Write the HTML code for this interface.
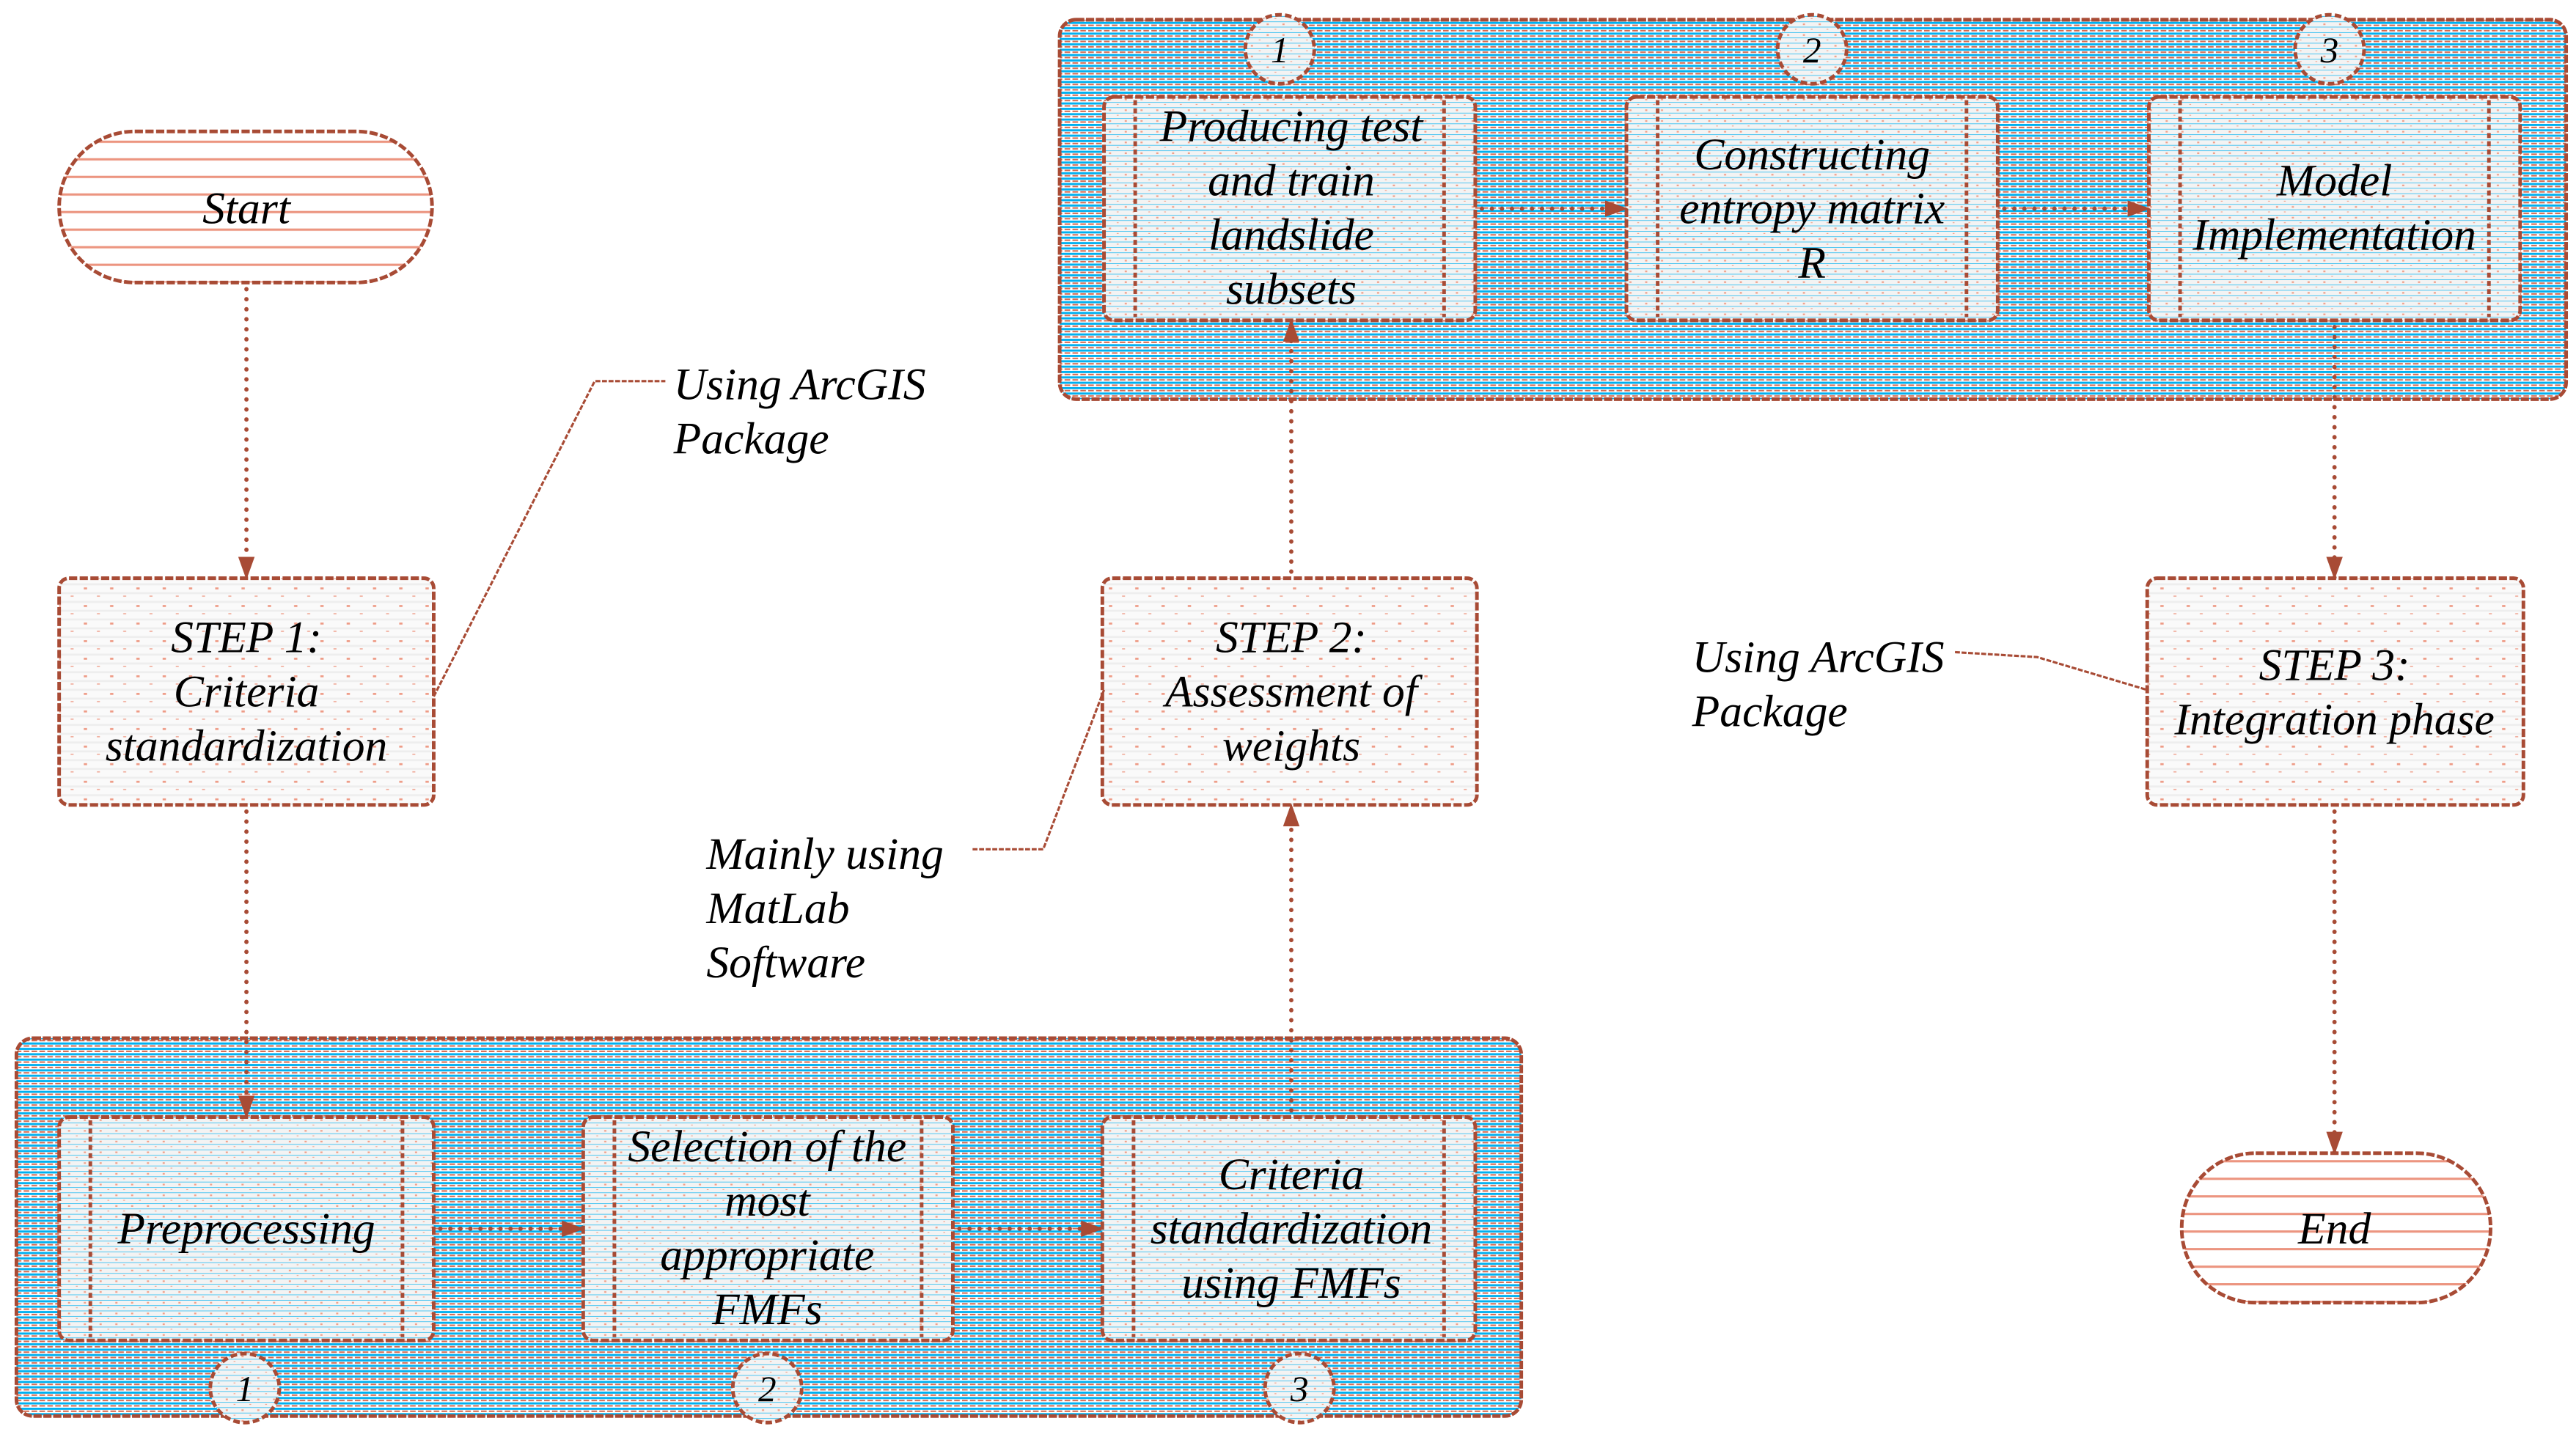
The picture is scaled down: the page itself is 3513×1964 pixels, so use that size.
<!DOCTYPE html>
<html><head><meta charset="utf-8"><style>html,body{margin:0;padding:0;background:#fff}svg{display:block}</style></head>
<body>
<svg width="3513" height="1964" viewBox="0 0 1568 876.6" preserveAspectRatio="none" xmlns="http://www.w3.org/2000/svg">
<defs>
<pattern id="blue" patternUnits="userSpaceOnUse" width="4.8" height="3.27">
<rect width="4.8" height="3.27" fill="#fff"/>
<rect y="0.2" width="4.8" height="1.3" fill="#00b0f0"/>
<rect y="1.9" width="3.4" height="0.9" fill="#d46a50"/>
</pattern>
<pattern id="inner" patternUnits="userSpaceOnUse" width="9.6" height="6.54">
<rect width="9.6" height="6.54" fill="#f3f3f3"/>
<rect y="0" width="9.6" height="0.3" fill="#00b0f0"/>
<rect y="3.27" width="9.6" height="0.3" fill="#00b0f0"/>
<rect x="3" y="1.2" width="1.3" height="1" fill="#f0a08a"/>
<rect x="7.8" y="4.5" width="1.1" height="0.5" fill="#f0a08a"/>
</pattern>
<pattern id="dots" patternUnits="userSpaceOnUse" width="16" height="10.7">
<rect width="16" height="10.7" fill="#fafafa"/>
<rect y="2" width="16" height="1.2" fill="#eeeeee"/>
<rect y="7.4" width="16" height="1.2" fill="#eeeeee"/>
<rect x="3" y="4.5" width="2" height="1.2" fill="#ee9a85"/>
<rect x="11" y="9.5" width="1.8" height="0.6" fill="#ee9a85"/>
</pattern>
<pattern id="hlines" patternUnits="userSpaceOnUse" width="10" height="10.7">
<rect width="10" height="10.7" fill="#fff"/>
<rect y="0" width="10" height="1.4" fill="#ec9580"/>
</pattern>
<marker id="ar" markerWidth="14" markerHeight="12" refX="13" refY="6" orient="auto" markerUnits="userSpaceOnUse">
<path d="M0,1 L14,6 L0,11 z" fill="#a84b35"/>
</marker>
</defs>
<g stroke="#a84b35" stroke-width="2.2">
<rect x="10" y="632" width="916" height="230" rx="10" fill="url(#blue)" stroke-dasharray="5,1"/>
<rect x="645" y="12" width="917" height="231" rx="10" fill="url(#blue)" stroke-dasharray="5,1"/>
<rect x="36" y="80" width="227" height="92" rx="46" fill="url(#hlines)" stroke-dasharray="5,1.5"/>
<rect x="1328" y="702" width="188" height="91" rx="45" fill="url(#hlines)" stroke-dasharray="5,1.5"/>
<rect x="36" y="352" width="228" height="138" rx="6" fill="url(#dots)" stroke-dasharray="5,1.5"/>
<rect x="671" y="352" width="228" height="138" rx="6" fill="url(#dots)" stroke-dasharray="5,1.5"/>
<rect x="1307" y="352" width="229" height="138" rx="6" fill="url(#dots)" stroke-dasharray="5,1.5"/>
<g fill="url(#inner)" stroke-dasharray="5,1.5">
<rect x="36" y="680" width="228" height="136" rx="6"/>
<rect x="355" y="680" width="225" height="136" rx="6"/>
<rect x="671" y="680" width="227" height="136" rx="6"/>
<rect x="672" y="59" width="226" height="136" rx="6"/>
<rect x="990" y="59" width="226" height="136" rx="6"/>
<rect x="1308" y="59" width="226" height="136" rx="6"/>
</g>
<g stroke-dasharray="3,2" fill="none">
<line x1="55" y1="682" x2="55" y2="814"/><line x1="245" y1="682" x2="245" y2="814"/>
<line x1="374" y1="682" x2="374" y2="814"/><line x1="561" y1="682" x2="561" y2="814"/>
<line x1="690" y1="682" x2="690" y2="814"/><line x1="879" y1="682" x2="879" y2="814"/>
<line x1="691" y1="61" x2="691" y2="193"/><line x1="879" y1="61" x2="879" y2="193"/>
<line x1="1009" y1="61" x2="1009" y2="193"/><line x1="1197" y1="61" x2="1197" y2="193"/>
<line x1="1327" y1="61" x2="1327" y2="193"/><line x1="1515" y1="61" x2="1515" y2="193"/>
</g>
<g fill="url(#inner)" stroke-dasharray="4,2">
<circle cx="149" cy="845" r="21"/><circle cx="467" cy="845" r="21"/><circle cx="791" cy="845" r="21"/>
<circle cx="779" cy="30" r="21"/><circle cx="1103" cy="30" r="21"/><circle cx="1418" cy="30" r="21"/>
</g>
<g stroke-width="2.6" stroke-dasharray="0.1,6" stroke-linecap="round" fill="none" marker-end="url(#ar)">
<line x1="150" y1="176" x2="150" y2="352"/>
<line x1="150" y1="494" x2="150" y2="680"/>
<line x1="268" y1="748" x2="355" y2="748"/>
<line x1="584" y1="748" x2="671" y2="748"/>
<line x1="786" y1="676" x2="786" y2="490"/>
<line x1="786" y1="348" x2="786" y2="195"/>
<line x1="902" y1="127" x2="990" y2="127"/>
<line x1="1220" y1="127" x2="1308" y2="127"/>
<line x1="1421" y1="199" x2="1421" y2="352"/>
<line x1="1421" y1="494" x2="1421" y2="702"/>
</g>
<g stroke-width="1.4" fill="none" stroke-dasharray="3,1">
<polyline points="264,424 362,232 405,232"/>
<polyline points="592,517 635,517 672,420"/>
<polyline points="1190,397 1240,400 1307,420"/>
</g>
</g>
<g font-family="Liberation Serif, serif" font-style="italic" font-size="27.5" fill="#000" text-anchor="middle">
<text x="150" y="136">Start</text>
<text x="1421" y="757">End</text>
<text x="150" y="397">STEP 1:</text><text x="150" y="430">Criteria</text><text x="150" y="463">standardization</text>
<text x="786" y="397">STEP 2:</text><text x="786" y="430">Assessment of</text><text x="786" y="463">weights</text>
<text x="1421" y="414">STEP 3:</text><text x="1421" y="447">Integration phase</text>
<text x="150" y="757">Preprocessing</text>
<text x="467" y="707">Selection of the</text><text x="467" y="740">most</text><text x="467" y="773">appropriate</text><text x="467" y="806">FMFs</text>
<text x="786" y="724">Criteria</text><text x="786" y="757">standardization</text><text x="786" y="790">using FMFs</text>
<text x="786" y="86">Producing test</text><text x="786" y="119">and train</text><text x="786" y="152">landslide</text><text x="786" y="185">subsets</text>
<text x="1103" y="103">Constructing</text><text x="1103" y="136">entropy matrix</text><text x="1103" y="169">R</text>
<text x="1421" y="119">Model</text><text x="1421" y="152">Implementation</text>
<g font-size="22"><text x="149" y="853">1</text><text x="467" y="853">2</text><text x="791" y="853">3</text>
<text x="779" y="38">1</text><text x="1103" y="38">2</text><text x="1418" y="38">3</text></g>
<g text-anchor="start">
<text x="410" y="243">Using ArcGIS</text><text x="410" y="276">Package</text>
<text x="430" y="529">Mainly using</text><text x="430" y="562">MatLab</text><text x="430" y="595">Software</text>
<text x="1030" y="409">Using ArcGIS</text><text x="1030" y="442">Package</text>
</g>
</g>
</svg>
</body></html>
